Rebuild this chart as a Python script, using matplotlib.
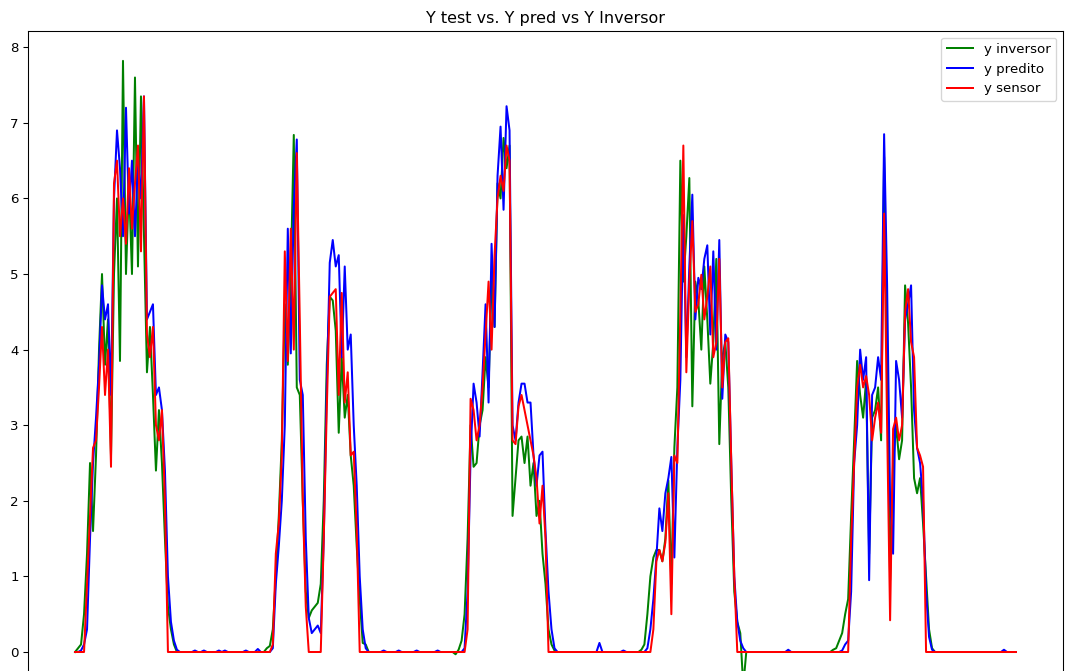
import matplotlib
matplotlib.use("Agg")
import matplotlib.pyplot as plt
import numpy as np

# ---- data (one sample every index step) ----
title = "Y test vs. Y pred vs Y Inversor"
labels = ["y inversor", "y predito", "y sensor"]
colors = ["green", "blue", "red"]

# Day segments
green_d1 = [0, 0.05, 0.1, 0.5, 1.3, 2.5, 1.6, 2.6, 4.0, 5.0, 3.8, 4.4, 2.6, 5.0, 6.0, 3.85, 7.82,
            5.0, 6.2, 5.0, 7.6, 5.1, 7.35, 5.5, 3.7, 4.3, 3.4, 2.4, 3.2, 2.5, 1.5, 0.6, 0.3, 0.1, 0]
blue_d1 = [0, 0, 0.02, 0.1, 0.3, 1.5, 2.5, 3.1, 3.8, 4.85, 4.4, 4.6, 3.4, 6.0, 6.9, 6.4, 5.5,
           7.2, 5.8, 6.5, 5.5, 6.5, 6.0, 7.35, 4.4, 4.5, 4.6, 3.4, 3.5, 3.2, 2.4, 1.0, 0.4, 0.15, 0.03]
red_d1 = [0, 0, 0, 0, 0.9, 1.8, 2.7, 2.8, 3.5, 4.3, 3.4, 4.0, 2.45, 6.2, 6.5, 5.5, 6.0,
          5.4, 6.4, 5.6, 6.2, 6.7, 5.3, 7.35, 4.2, 3.9, 4.3, 3.0, 2.8, 3.2, 2.0, 0, 0, 0, 0]

green_d2 = [0.08, 0.3, 1.0, 1.8, 2.8, 4.6, 3.8, 5.0, 6.84, 3.5, 3.4, 2.0, 0.8, 0.45, 0.55, 0.6, 0.65,
            0.9, 2.0, 3.8, 4.7, 4.65, 4.25, 2.9, 3.9, 3.1, 3.4, 2.6, 2.2, 1.4, 0.7, 0.12, 0.1, 0]
blue_d2 = [0, 0.05, 0.9, 1.4, 2.0, 3.0, 5.6, 3.95, 5.9, 6.78, 3.6, 3.4, 1.5, 0.45, 0.25, 0.3, 0.35,
           0.25, 1.5, 3.5, 5.15, 5.45, 5.1, 5.25, 3.9, 5.1, 4.0, 4.2, 3.0, 2.2, 1.0, 0.3, 0.05, 0]
red_d2 = [0, 0.1, 1.3, 1.7, 2.6, 5.3, 3.85, 5.6, 4.0, 6.6, 4.4, 2.0, 0.6, 0, 0, 0, 0,
          0, 1.5, 3.2, 4.7, 4.75, 4.8, 3.4, 4.75, 3.3, 3.7, 2.6, 2.65, 1.6, 0, 0, 0, 0]

green_d3 = [0.03, 0.15, 0.5, 1.5, 3.0, 2.45, 2.5, 3.0, 3.2, 3.9, 3.5, 4.9, 4.3, 6.2, 6.0, 6.8, 6.4,
            6.7, 1.8, 2.3, 2.8, 2.85, 2.5, 2.85, 2.2, 2.5, 1.8, 2.0, 1.3, 0.9, 0.3, 0.1, 0.02, 0]
blue_d3 = [0, 0, 0.05, 0.8, 2.6, 3.55, 3.3, 2.85, 3.7, 4.6, 3.3, 5.4, 4.3, 6.3, 6.95, 5.85, 7.22,
           6.9, 3.0, 2.8, 3.3, 3.55, 3.55, 3.3, 3.3, 2.6, 2.2, 2.6, 2.65, 1.6, 0.8, 0.3, 0.05, 0]
red_d3 = [0, 0, 0, 0.3, 3.35, 3.2, 2.8, 3.0, 3.5, 4.2, 4.9, 4.0, 5.25, 6.0, 6.3, 6.1, 6.7,
          6.5, 2.8, 2.75, 3.25, 3.4, 3.2, 3.0, 2.8, 2.6, 2.3, 1.7, 2.2, 1.5, 0, 0, 0, 0]

green_d4 = [0.1, 0.5, 1.0, 1.25, 1.35, 1.35, 1.2, 1.5, 2.27, 0.9, 2.7, 3.5, 6.5, 4.9, 5.5, 6.27, 3.25,
            4.9, 4.65, 4.0, 5.1, 4.4, 3.55, 4.1, 5.2, 2.75, 3.9, 4.1, 3.5, 2.0, 0.8, 0.4, 0.25, -0.45, 0]
blue_d4 = [0, 0.05, 0.3, 0.7, 1.25, 1.9, 1.6, 2.1, 2.3, 2.58, 1.25, 2.7, 3.6, 5.78, 3.9, 5.1, 6.05,
           4.4, 4.95, 4.8, 5.2, 5.38, 4.2, 5.3, 4.0, 5.45, 3.35, 4.2, 4.1, 2.5, 1.0, 0.4, 0.15, 0.05, 0]
red_d4 = [0, 0, 0, 0.3, 1.2, 1.35, 1.2, 1.45, 2.1, 0.5, 2.6, 2.5, 4.5, 6.7, 3.7, 4.9, 5.7,
          4.5, 4.6, 4.99, 4.4, 4.7, 5.1, 3.9, 4.1, 5.2, 3.5, 4.1, 4.15, 2.5, 1.0, 0, 0, 0, 0]

green_d5 = [0.05, 0.15, 0.25, 0.5, 0.7, 1.8, 2.8, 3.85, 3.4, 3.1, 3.6, 1.3, 3.1, 3.2, 3.5, 2.8, 6.55,
            4.0, 0.95, 2.5, 3.0, 2.55, 2.8, 4.85, 4.35, 3.5, 2.3, 2.1, 2.3, 1.7, 1.0, 0.3, 0.05, 0, 0]
blue_d5 = [0, 0, 0.02, 0.1, 0.15, 0.8, 2.5, 3.0, 4.0, 3.6, 3.9, 0.95, 3.4, 3.5, 3.9, 3.6, 6.85,
           4.85, 2.0, 1.3, 3.85, 3.6, 3.1, 4.4, 4.6, 4.85, 3.2, 2.7, 2.5, 2.0, 0.8, 0.2, 0.03, 0, 0]
red_d5 = [0, 0, 0, 0, 0, 1.5, 2.5, 3.5, 3.8, 3.5, 3.65, 3.4, 2.8, 3.1, 3.3, 2.9, 5.8,
          3.0, 0.42, 2.95, 3.1, 2.8, 3.0, 4.5, 4.8, 4.1, 3.9, 2.7, 2.6, 2.45, 0, 0, 0, 0, 0]

# Night segments (blue prediction shows tiny non-zero blips)
blue_n1 = [0, 0, 0, 0, 0, 0.02, 0, 0, 0.02, 0, 0, 0, 0, 0.02, 0, 0.02, 0, 0, 0, 0, 0, 0,
           0.02, 0, 0, 0, 0.04, 0, 0, 0]
green_n1 = [0] * 29 + [0.05]
blue_n2 = [0, 0, 0, 0, 0.02, 0, 0, 0, 0, 0.02, 0, 0, 0, 0, 0, 0.02, 0, 0, 0, 0, 0, 0,
           0.02, 0, 0, 0, 0, 0, 0]
green_n2 = [0] * 28 + [-0.03]
blue_n3 = [0, 0, 0, 0, 0, 0, 0, 0, 0, 0, 0, 0, 0, 0.12, 0, 0, 0, 0, 0, 0, 0, 0.02, 0, 0,
           0, 0, 0, 0]
green_n3 = [0] * 27 + [0.03]
blue_n4 = [0, 0, 0, 0, 0, 0, 0, 0, 0, 0, 0, 0, 0, 0.03, 0, 0, 0, 0, 0, 0, 0, 0, 0, 0,
           0, 0, 0, 0, 0]
green_n4 = [0] * 28 + [0.03]
blue_n5 = [0, 0, 0, 0, 0, 0, 0, 0, 0, 0, 0, 0, 0, 0, 0, 0, 0, 0, 0, 0, 0, 0.03, 0, 0,
           0, 0]
green_n5 = [0] * 26

y_inversor = (green_d1 + green_n1 + green_d2 + green_n2 + green_d3 + green_n3 +
              green_d4 + green_n4 + green_d5 + green_n5)
y_predito = (blue_d1 + blue_n1 + blue_d2 + blue_n2 + blue_d3 + blue_n3 +
             blue_d4 + blue_n4 + blue_d5 + blue_n5)
y_sensor = (red_d1 + [0] * len(blue_n1) + red_d2 + [0] * len(blue_n2) + red_d3 +
            [0] * len(blue_n3) + red_d4 + [0] * len(blue_n4) + red_d5 + [0] * len(blue_n5))

series = [y_inversor, y_predito, y_sensor]

# ---- figure ----
W, H = 1066, 671
DPI = 96
fig = plt.figure(figsize=(W / DPI, H / DPI), dpi=DPI)
ymin, ymax = -0.7, 8.215
px_per_unit = 75.6
top_px = 31
bottom_px = 652 + (0 - ymin) * px_per_unit
ax = fig.add_axes([28 / W, 1 - bottom_px / H, (1063 - 28) / W, (bottom_px - top_px) / H])

for y, lab, c in zip(series, labels, colors):
    ax.plot(np.arange(len(y)), y, color=c, label=lab, linewidth=1.5)

ax.set_ylim(ymin, ymax)
ax.set_yticks(range(0, 9))
ax.tick_params(axis="y", labelsize=10)
ax.tick_params(axis="x", bottom=False, labelbottom=False)
ax.set_title(title, fontsize=12)
ax.legend(loc="upper right", fontsize=10)

fig.savefig("out.png", dpi=DPI)
